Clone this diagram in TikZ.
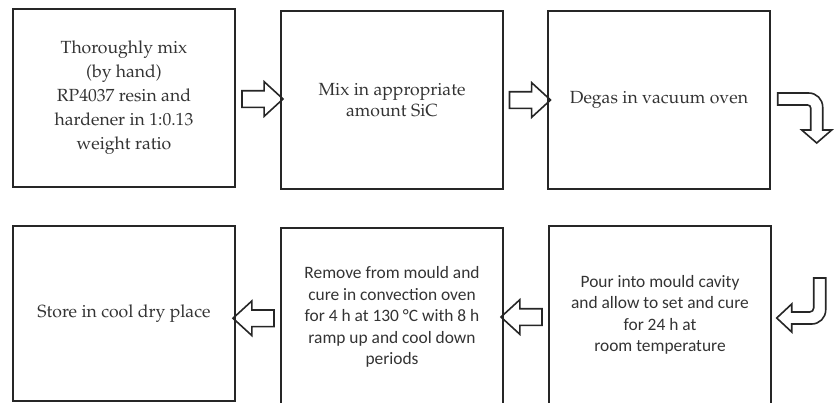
\documentclass[tikz,border=0pt]{standalone}
\usepackage[T1]{fontenc}
\usepackage{fontspec}
\newfontfamily\calibrifont{Carlito}
\newcommand{\bookfont}{\fontencoding{T1}\fontfamily{ppl}\selectfont}
\usetikzlibrary{calc,shapes.arrows}

\begin{document}
\begin{tikzpicture}[x=1pt,y=-1pt]
    \tikzstyle{stepbox}=[draw=black!85,line width=1.4pt,minimum width=222pt,minimum height=178pt,inner sep=0pt,align=center,text=black!80]
    \tikzstyle{serif}=[font={\fontsize{17.6}{24}\bookfont}]
    \tikzstyle{sans}=[font={\fontsize{17.4}{21.5}\calibrifont}]
    \tikzstyle{blockarrow}=[single arrow,draw=black!85,line width=1.6pt,minimum height=41pt,minimum width=0pt,inner xsep=0pt,inner ysep=7.5pt,single arrow head extend=9pt,single arrow tip angle=85]
    \tikzstyle{bentarrow}=[draw=black!85,line width=1.6pt,line join=miter]
    \useasboundingbox (0,0) rectangle (834,402);
    \clip (0,0) rectangle (834,402);

    % top row
    \node[stepbox,serif] (b1) at (124,98) {Thoroughly mix\\(by hand)\\RP4037 resin and\\hardener in 1:0.13\\weight ratio};
    \node[stepbox,serif,font={\fontsize{17.6}{21.5}\bookfont}] (b2) at (392,100) {Mix in appropriate\\amount SiC};
    \node[stepbox,serif] (b3) at (659,100) {Degas in vacuum oven};

    % bottom row
    \node[stepbox,serif,minimum height=175pt] (b4) at (124,313.5) {Store in cool dry place};
    \node[stepbox,sans] (b5) at (392,317) {Remove from mould and\\cure in convection oven\\for 4 h at 130 °C with 8 h\\ramp up and cool down\\periods};
    \node[stepbox,sans] (b6) at (660,315) {Pour into mould cavity\\and allow to set and cure\\for 24 h at\\room temperature};

    \node[blockarrow] (a1) at ($(b1.east)!0.5!(b2.west)$) {};
    \node[blockarrow] (a2) at ($(b2.east)!0.5!(b3.west)$) {};
    \node[blockarrow,shape border rotate=180] (a4) at ($(b5.east)!0.5!(b6.west)+(0,1)$) {};
    \node[blockarrow,shape border rotate=180] (a5) at ($(b4.east)!0.5!(b5.west)+(0,3)$) {};

    % turn down at the end of the top row
    \begin{scope}[shift={(b3.east)}]
        \draw[bentarrow] (7,-7) -- (38,-7) arc[start angle=-90,end angle=0,radius=14]
            -- (52,30) -- (61,30) -- (46,43) -- (31,30) -- (40,30) -- (40,8)
            arc[start angle=0,end angle=-90,radius=3] -- (7,5) -- cycle;
    \end{scope}
    % and back into the bottom row
    \begin{scope}[shift={(b6.east)}]
        \draw[bentarrow] (42,-37) -- (54,-37) -- (54,-5) arc[start angle=0,end angle=90,radius=14]
            -- (20,9) -- (20,17) -- (5,3) -- (20,-11) -- (20,-3) -- (38,-3)
            arc[start angle=90,end angle=0,radius=4] -- cycle;
    \end{scope}
\end{tikzpicture}
\end{document}
